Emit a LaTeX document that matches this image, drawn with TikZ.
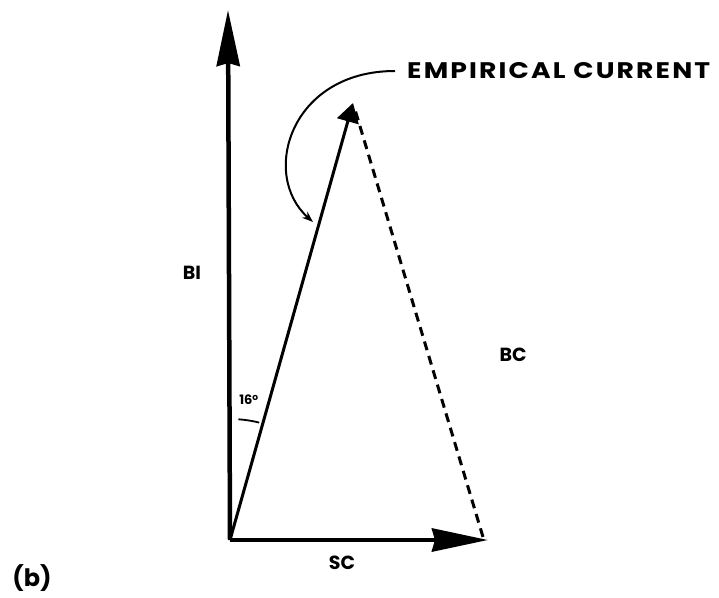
\documentclass[tikz,border=0pt]{standalone}
\usepackage{graphicx}
\usepackage{fontspec}
\newfontfamily\letterfont{Poppins}
\newfontfamily\spacedfont[LetterSpace=8]{Poppins}
\usetikzlibrary{arrows.meta}
\tikzset{
  bigvec/.style={-{Stealth[length=56pt,width=23pt,inset=3pt]}, line width=4.5pt},
  ecvec/.style={-{Triangle[length=19pt,width=22pt]}, line width=3pt},
  pointer/.style={-{Stealth[length=11pt,width=8pt]}, line width=2pt},
  lbl/.style={font=\letterfont\bfseries\fontsize{19}{19}\selectfont, inner sep=0pt}
}

\begin{document}
\begin{tikzpicture}[x=1pt, y=-1pt]

  \useasboundingbox (0,0) rectangle (719,597);

  % vector ends
  \coordinate (O) at (230,540);
  \coordinate (bitip) at (228,10);
  \coordinate (sctip) at (488,540);
  \coordinate (ectip) at (353,103);

  % components and resultant
  \draw[bigvec] (O) -- (bitip);
  \draw[bigvec] (O) -- (sctip);
  \draw[ecvec] (O) -- (ectip);
  \draw[line width=3pt, dash pattern=on 9pt off 6pt, shorten <=9pt] (ectip) -- (483,537);

  % angle mark
  \draw[line width=1.8pt] (O) ++(-86:121) arc[start angle=-86, end angle=-76, radius=121];

  % labels
  \node[lbl] (bi) at (192,273) {BI};
  \node[lbl] (bc) at (513,355) {BC};
  \node[lbl] (sc) at (342,563) {SC};
  \node[lbl, font=\letterfont\bfseries\fontsize{13}{13}\selectfont] (ang) at (249,400) {16\textsuperscript{o}};
  \node[lbl, font=\letterfont\bfseries\fontsize{24}{24}\selectfont] (fig) at (32,578) {(b)};
  \node[lbl, anchor=west, font=\spacedfont\bfseries\fontsize{20}{20}\selectfont] (emp) at (407,71)
    {\resizebox{303pt}{16pt}{EMPIRICAL CURRENT}};

  % pointer to resultant
  \draw[pointer] (emp.west) ++(-12,0) .. controls (290,71) and (260,175) .. (313,222);

\end{tikzpicture}
\end{document}
